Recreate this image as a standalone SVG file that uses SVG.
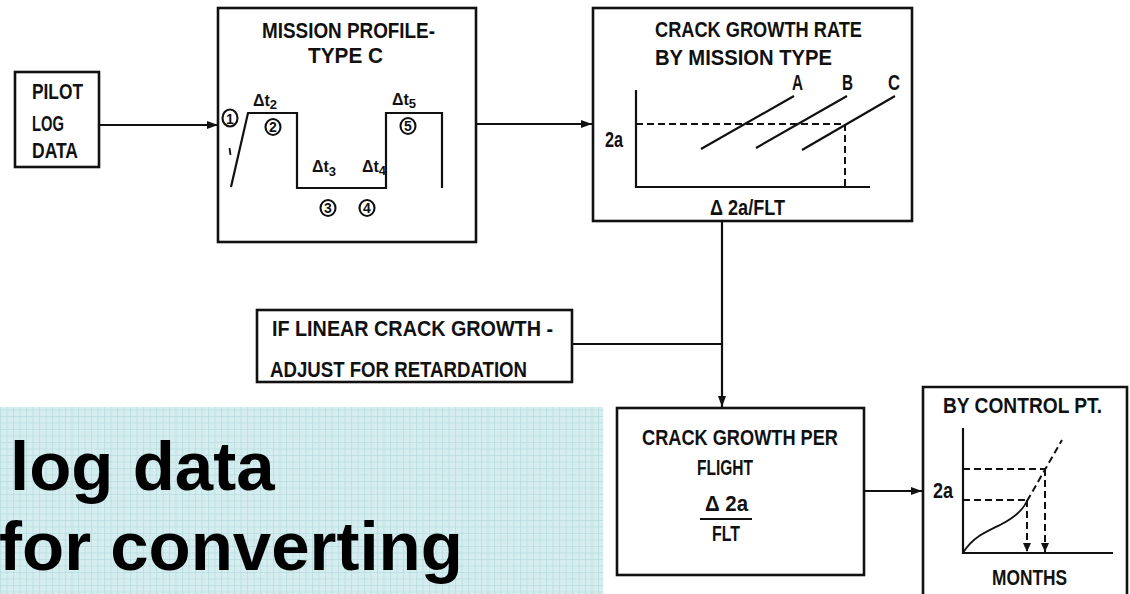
<svg xmlns="http://www.w3.org/2000/svg" width="1130" height="594" viewBox="0 0 1130 594">
  <style>
    .box { fill: #fff; stroke: #111; stroke-width: 2.6; }
    .ln { fill: none; stroke: #111; stroke-width: 2.2; }
    .thin { fill: none; stroke: #111; stroke-width: 1.8; }
    .dash { fill: none; stroke: #111; stroke-width: 2; stroke-dasharray: 7 4; }
    .t { font-family: "Liberation Sans", Arial, sans-serif; font-weight: bold; font-size: 22px; fill: #111; }
    .s { font-family: "Liberation Sans", Arial, sans-serif; font-weight: bold; font-size: 16px; fill: #111; }
    .num { font-family: "Liberation Sans", Arial, sans-serif; font-weight: bold; font-size: 14px; fill: #111; text-anchor: middle; }
    .big { font-family: "Liberation Sans", Arial, sans-serif; font-weight: bold; font-size: 69px; fill: #000; }
    .circ { fill: none; stroke: #111; stroke-width: 2.1; }
  </style>
  <defs>
    <marker id="arr" markerUnits="userSpaceOnUse" markerWidth="12" markerHeight="10" refX="11" refY="4" orient="auto">
      <path d="M0,0 L11,4 L0,8 z" fill="#111"/>
    </marker>
    <marker id="arrS" markerUnits="userSpaceOnUse" markerWidth="10" markerHeight="12" refX="9" refY="4" orient="auto">
      <path d="M0,0 L9,4 L0,8 z" fill="#111"/>
    </marker>
    <pattern id="grid" width="6.5" height="6.5" patternUnits="userSpaceOnUse">
      <rect width="6.5" height="6.5" fill="#d6eef0"/>
      <path d="M0,0.5 H6.5 M0.5,0 V6.5" stroke="#bcdfe3" stroke-width="1"/>
      <rect x="3" y="3" width="1" height="1" fill="#c8e6e9"/>
    </pattern>
  </defs>

  <rect width="1130" height="594" fill="#fff"/>

  <!-- shaded caption panel -->
  <g id="caption">
    <rect x="0" y="407" width="603" height="187" fill="url(#grid)"/>
    <text class="big" x="10" y="490">log data</text>
    <text class="big" x="-1" y="570">for converting</text>
  </g>

  <!-- pilot log input -->
  <g id="pilot-log">
    <rect class="box" x="15" y="72" width="84" height="95"/>
    <text class="t" x="32" y="99" textLength="51" lengthAdjust="spacingAndGlyphs">PILOT</text>
    <text class="t" x="32" y="131" textLength="32" lengthAdjust="spacingAndGlyphs">LOG</text>
    <text class="t" x="32" y="158" textLength="46" lengthAdjust="spacingAndGlyphs">DATA</text>
  </g>

  <!-- mission profile -->
  <g id="mission-profile">
    <rect class="box" x="218" y="8" width="258" height="234"/>
    <text class="t" x="262" y="38" textLength="173" lengthAdjust="spacingAndGlyphs">MISSION PROFILE-</text>
    <text class="t" x="308" y="63" textLength="75" lengthAdjust="spacingAndGlyphs">TYPE C</text>
    <path class="ln" d="M231,187 L248,113 H297 V188 H386 V113 H442 V188"/>
    <ellipse class="circ" cx="230" cy="118" rx="7.5" ry="8.5"/>
    <text class="num" x="230" y="124" font-size="15">1</text>
    <path class="thin" d="M229.5,148 L230.5,155"/>
    <ellipse class="circ" cx="273" cy="127" rx="7.5" ry="8"/>
    <text class="num" x="273" y="132">2</text>
    <ellipse class="circ" cx="328" cy="208" rx="7.5" ry="8"/>
    <text class="num" x="328" y="213">3</text>
    <ellipse class="circ" cx="367" cy="208" rx="7.5" ry="8"/>
    <text class="num" x="367" y="213">4</text>
    <ellipse class="circ" cx="408" cy="126" rx="7.5" ry="8"/>
    <text class="num" x="408" y="131">5</text>
    <text class="s" x="253" y="106">Δt<tspan font-size="13" dy="3">2</tspan></text>
    <text class="s" x="312" y="172">Δt<tspan font-size="13" dy="4">3</tspan></text>
    <text class="s" x="362" y="172">Δt<tspan font-size="13" dy="3">4</tspan></text>
    <text class="s" x="392" y="105">Δt<tspan font-size="13" dy="3">5</tspan></text>
  </g>

  <!-- crack growth rate chart -->
  <g id="crack-rate">
    <rect class="box" x="593" y="8" width="319" height="213"/>
    <text class="t" x="655" y="37" textLength="207" lengthAdjust="spacingAndGlyphs">CRACK GROWTH RATE</text>
    <text class="t" x="655" y="65" textLength="177" lengthAdjust="spacingAndGlyphs">BY MISSION TYPE</text>
    <path class="ln" d="M636,90 V187 H870"/>
    <path class="dash" d="M636,124 H845 V187"/>
    <path class="ln" d="M701,149 L794,96 M756,148 L847,96 M802,150 L895,96"/>
    <text class="t" x="792" y="90" font-size="17" textLength="11" lengthAdjust="spacingAndGlyphs">A</text>
    <text class="t" x="842" y="90" font-size="17" textLength="11" lengthAdjust="spacingAndGlyphs">B</text>
    <text class="t" x="888" y="90" font-size="17" textLength="12" lengthAdjust="spacingAndGlyphs">C</text>
    <text class="t" x="605" y="147" font-size="20" textLength="18" lengthAdjust="spacingAndGlyphs">2a</text>
    <text class="t" x="710" y="215" font-size="20" textLength="75" lengthAdjust="spacingAndGlyphs">Δ 2a/FLT</text>
  </g>

  <!-- retardation adjustment -->
  <g id="retardation">
    <rect class="box" x="257" y="310" width="315" height="72"/>
    <text class="t" x="272" y="336" textLength="281" lengthAdjust="spacingAndGlyphs">IF LINEAR CRACK GROWTH -</text>
    <text class="t" x="270" y="377" textLength="257" lengthAdjust="spacingAndGlyphs">ADJUST FOR RETARDATION</text>
  </g>

  <!-- crack growth per flight -->
  <g id="per-flight">
    <rect class="box" x="617" y="408" width="247" height="167"/>
    <text class="t" x="642" y="445" textLength="196" lengthAdjust="spacingAndGlyphs">CRACK GROWTH PER</text>
    <text class="t" x="697" y="475" textLength="56" lengthAdjust="spacingAndGlyphs">FLIGHT</text>
    <text class="t" x="705" y="511" font-size="19" textLength="43" lengthAdjust="spacingAndGlyphs">Δ 2a</text>
    <path class="thin" d="M700,519 H752"/>
    <text class="t" x="712" y="541" font-size="19" textLength="28" lengthAdjust="spacingAndGlyphs">FLT</text>
  </g>

  <!-- crack length by control point -->
  <g id="control-point">
    <path class="box" d="M923,600 V387 H1127 V600"/>
    <text class="t" x="943" y="413" textLength="159" lengthAdjust="spacingAndGlyphs">BY CONTROL PT.</text>
    <path class="ln" d="M963,428 V553 H1113"/>
    <text class="t" x="933" y="498" font-size="20" textLength="20" lengthAdjust="spacingAndGlyphs">2a</text>
    <path class="thin" d="M963,553 C972,538 985,532 1000,525 C1012,519 1022,512 1027,501"/>
    <path class="dash" d="M963,469 H1045 M963,500 H1027 M1027,501 L1062,440"/>
    <path class="dash" d="M1027,500 V552" marker-end="url(#arrS)"/>
    <path class="dash" d="M1045,469 V552" marker-end="url(#arrS)"/>
    <text class="t" x="992" y="585" textLength="75" lengthAdjust="spacingAndGlyphs">MONTHS</text>
  </g>

  <!-- connectors -->
  <g id="connectors">
    <path class="ln" d="M99,125 H218" marker-end="url(#arr)"/>
    <path class="ln" d="M476,124 H592" marker-end="url(#arr)"/>
    <path class="ln" d="M722,221 V407" marker-end="url(#arr)"/>
    <path class="ln" d="M572,344 H722"/>
    <path class="ln" d="M864,491 H922" marker-end="url(#arr)"/>
  </g>
</svg>
